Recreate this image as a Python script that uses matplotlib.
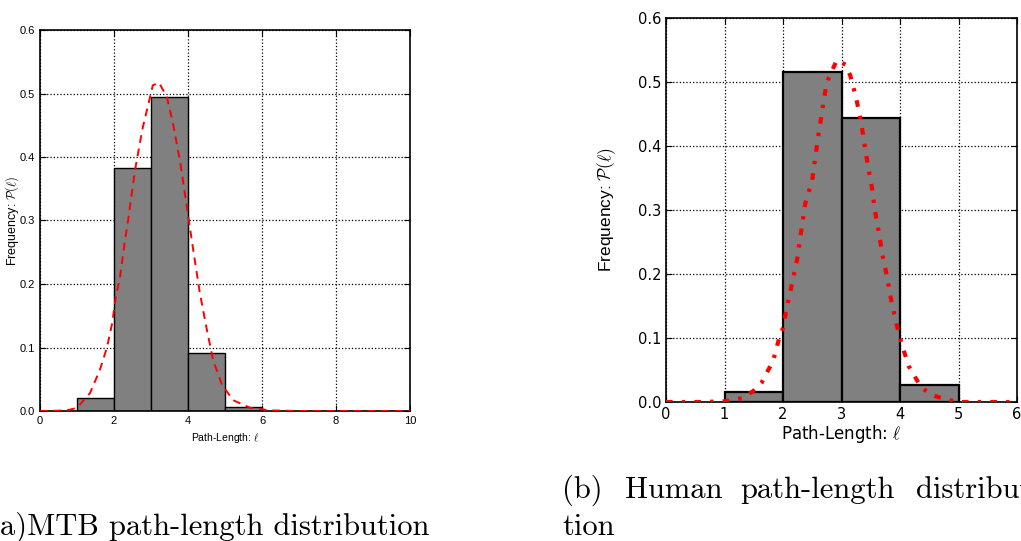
import matplotlib
matplotlib.use("Agg")
import matplotlib.pyplot as plt
import numpy as np

plt.rcParams['mathtext.fontset'] = 'cm'
plt.rcParams['font.family'] = ['Liberation Sans', 'DejaVu Sans']

# (a) MTB histogram
mtb_edges = [1, 2, 3, 4, 5]
mtb_freq = [0.020, 0.383, 0.495, 0.092, 0.007]
# fitted curve
mtb_fit_x = [0.0, 0.5, 0.8, 1.0, 1.35, 1.62, 1.81, 1.95, 2.05, 2.16, 2.3, 2.38, 2.57, 2.7, 2.78,
             3.05, 3.22, 3.43, 3.59, 3.78, 3.97, 4.14, 4.32, 4.51, 4.68, 4.92, 5.22, 5.68, 6.2, 7.0, 10.0]
mtb_fit_y = [0.0, 0.0005, 0.002, 0.005, 0.028, 0.065, 0.100, 0.138, 0.180, 0.210, 0.270, 0.300, 0.380, 0.422, 0.447,
             0.513, 0.517, 0.494, 0.454, 0.395, 0.321, 0.254, 0.186, 0.128, 0.080, 0.041, 0.017, 0.005, 0.001, 0.0, 0.0]

# (b) Human histogram
hum_edges = [1, 2, 3, 4]
hum_freq = [0.015, 0.515, 0.443, 0.026]
hum_fit_x = [0.0, 0.6, 1.0, 1.3, 1.49, 1.64, 1.73, 1.83, 1.93, 2.0, 2.07, 2.12, 2.24, 2.38, 2.5, 2.6, 2.69,
             2.75, 2.92, 3.07, 3.15, 3.25, 3.33, 3.39, 3.45, 3.52, 3.57, 3.64, 3.7, 3.78, 3.85, 3.93,
             4.03, 4.15, 4.36, 4.54, 4.75, 5.0, 6.0]
hum_fit_y = [0.0, 0.0, 0.001, 0.006, 0.017, 0.031, 0.047, 0.064, 0.098, 0.116, 0.150, 0.170, 0.222, 0.310, 0.347, 0.414, 0.467,
             0.500, 0.534, 0.527, 0.510, 0.475, 0.440, 0.405, 0.370, 0.335, 0.300, 0.264, 0.230, 0.195, 0.159, 0.125,
             0.090, 0.056, 0.023, 0.011, 0.005, 0.0, 0.0]

W, H = 1021, 541
fig = plt.figure(figsize=(W / 100, H / 100), dpi=100)

def style(ax, fs, family):
    ax.grid(True, linestyle=':', color='black', linewidth=0.9)
    ax.set_axisbelow(True)
    ax.tick_params(direction='in', top=True, right=True, labelsize=fs, length=4)
    for lab in ax.get_xticklabels() + ax.get_yticklabels():
        lab.set_family(family)
    for s in ax.spines.values():
        s.set_linewidth(1.2)

yt = np.arange(0, 0.61, 0.1)

# ---- left
ax1 = fig.add_axes([40 / W, (H - 411) / H, 370 / W, 381 / H])
ax1.bar(mtb_edges, mtb_freq, width=1, align='edge', color='#808080', edgecolor='black', linewidth=1.0, zorder=2)
ax1.plot(mtb_fit_x, mtb_fit_y, color='red', linestyle=(0, (4, 3)), linewidth=1.4, zorder=3)
ax1.set_xlim(0, 10)
ax1.set_ylim(0, 0.6)
ax1.set_xticks(np.arange(0, 11, 2))
ax1.set_yticks(yt)
ax1.set_yticklabels(['%.1f' % v for v in yt])
style(ax1, 8, 'Liberation Sans')
ax1.set_xlabel(r'Path-Length: $\ell$', fontsize=7.5, labelpad=4)
ax1.set_ylabel(r'Frequency: $\mathcal{P}(\ell)$', fontsize=9)
ax1.yaxis.set_label_coords(-0.052, 0.5)

# ---- right
ax2 = fig.add_axes([666 / W, (H - 402) / H, 351 / W, 384 / H])
ax2.bar(hum_edges, hum_freq, width=1, align='edge', color='#808080', edgecolor='black', linewidth=1.6, zorder=2)
ax2.plot(hum_fit_x, hum_fit_y, color='red', linestyle=(0, (1.6, 2.2, 0.8, 2.2)), linewidth=3, zorder=3)
ax2.set_xlim(0, 6)
ax2.set_ylim(0, 0.6)
ax2.set_xticks(range(0, 7))
ax2.set_yticks(yt)
ax2.set_yticklabels(['%.1f' % v for v in yt])
style(ax2, 10.5, 'DejaVu Sans')
ax2.set_xlabel(r'Path-Length: $\ell$', fontsize=12, family='DejaVu Sans', labelpad=1)
ax2.set_ylabel(r'Frequency: $\mathcal{P}(\ell)$', fontsize=12.5, labelpad=14)

# ---- captions
cap = dict(fontfamily='cmr10', fontsize=22, va='baseline', ha='left')
fig.text(-12 / W, 1 - 535 / H, '(a)MTB path-length distribution', **cap)
for word, x in [('(b)', 562), ('Human', 625), ('path-length', 740), ('distribution', 916)]:
    fig.text(x / W, 1 - 498 / H, word, **cap)
fig.text(562 / W, 1 - 535 / H, 'tion', **cap)

fig.savefig('out.png', dpi=100)
